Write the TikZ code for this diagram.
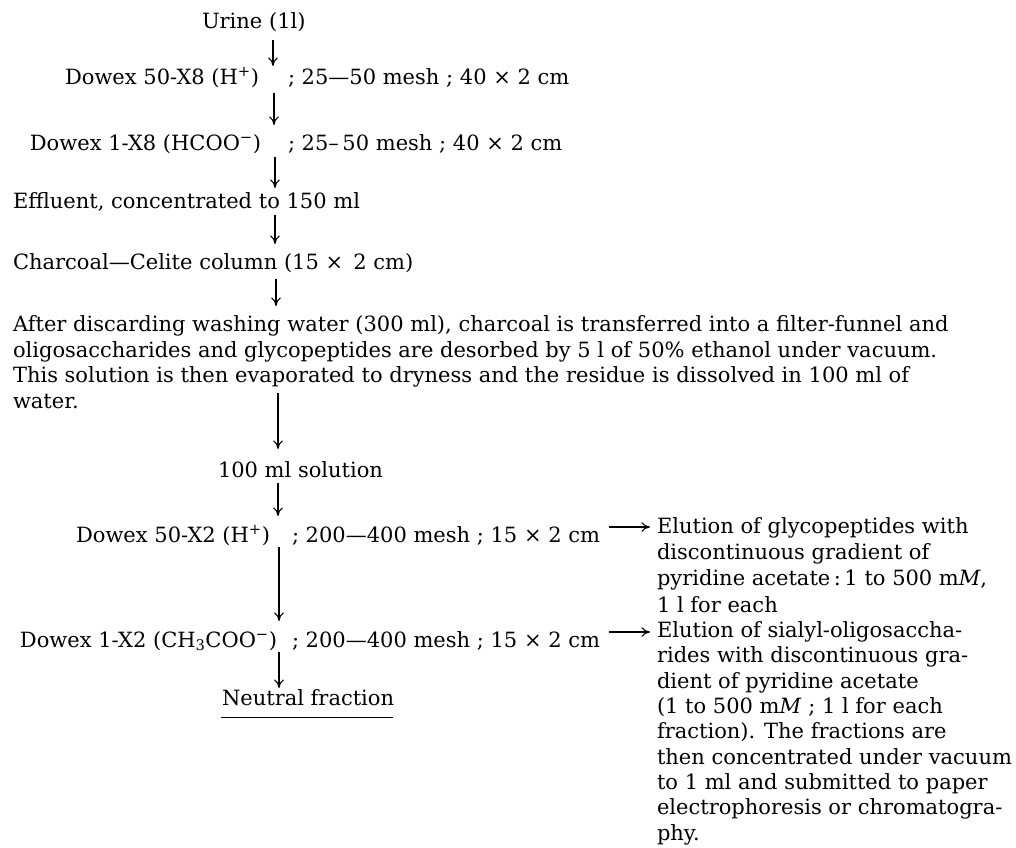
\documentclass[tikz,border=0pt]{standalone}
\usepackage{fontspec}
\setmainfont{DejaVu Serif}
\usetikzlibrary{arrows.meta}
\begin{document}
\begin{tikzpicture}[x=1pt,y=-1pt,
  font=\fontsize{21}{25.5}\selectfont,
  txt/.style={inner sep=0pt,outer sep=0pt},
  arr/.style={-{To[length=8.5pt,width=9.5pt]},line width=1.1pt}]
\useasboundingbox (0,0) rectangle (1016,847);
% text rows
\node[txt,anchor=base west] (urine) at (202,28) {Urine (1l)};
\node[txt,anchor=base east] (d50a) at (259,84) {Dowex 50-X8 (H\textsuperscript{+})};
\node[txt,anchor=base west] (d50b) at (288,84) {; 25—50 mesh ; 40 × 2 cm};
\node[txt,anchor=base east] (d1a) at (261,150) {Dowex 1-X8 (HCOO\textsuperscript{−})};
\node[txt,anchor=base west] (d1b) at (288,150) {; 25–\,50 mesh ; 40 × 2 cm};
\node[txt,anchor=base west] (eff) at (13,208) {Effluent, concentrated to 150 ml};
\node[txt,anchor=base west] (char) at (13,269) {Charcoal—Celite column (15 × \,2 cm)};
\node[txt,anchor=base west,align=left] (para) at (13,408)
 {After discarding washing water (300 ml), charcoal is transferred into a filter-funnel and\\
  oligosaccharides and glycopeptides are desorbed by 5 l of 50\% ethanol under vacuum.\\
  This solution is then evaporated to dryness and the residue is dissolved in 100 ml of\\
  water.};
\node[txt,anchor=base west] (sol) at (218,477) {100 ml solution};
\node[txt,anchor=base east] (d502a) at (270,542) {Dowex 50-X2 (H\textsuperscript{+})};
\node[txt,anchor=base west] (d502b) at (292,542) {; 200—400 mesh ; 15 × 2 cm};
\node[txt,anchor=base east] (d12a) at (277,647) {Dowex 1-X2 (CH\textsubscript{3}COO\textsuperscript{−})};
\node[txt,anchor=base west] (d12b) at (292,647) {; 200—400 mesh ; 15 × 2 cm};
\node[txt,anchor=base west] (neut) at (222,705) {Neutral fraction};
\node[txt,anchor=base west,align=left,font=\fontsize{21}{26.3}\selectfont] (el1) at (657,612)
 {Elution of glycopeptides with\\
  discontinuous gradient of\\
  pyridine acetate\,:\,1 to 500 m\textit{M},\\
  1 l for each};
\node[txt,anchor=base west,align=left,font=\fontsize{21}{25.3}\selectfont] (el2) at (657,840)
 {Elution of sialyl-oligosaccha-\\
  rides with discontinuous gra-\\
  dient of pyridine acetate\\
  (1 to 500 m\textit{M} ; 1 l for each\\
  fraction). The fractions are\\
  then concentrated under vacuum\\
  to 1 ml and submitted to paper\\
  electrophoresis or chromatogra-\\
  phy.};
% arrow end points
\coordinate (a1s) at (273,40);  \coordinate (a1e) at (273,66);
\coordinate (a2s) at (274,93);  \coordinate (a2e) at (274,125);
\coordinate (a3s) at (275,157); \coordinate (a3e) at (275,188);
\coordinate (a4s) at (275,215); \coordinate (a4e) at (275,244);
\coordinate (a5s) at (276,279); \coordinate (a5e) at (276,306);
\coordinate (a6s) at (278,393); \coordinate (a6e) at (278,449);
\coordinate (a7s) at (278,483); \coordinate (a7e) at (278,516);
\coordinate (a8s) at (279,547); \coordinate (a8e) at (279,621);
\coordinate (a9s) at (279,652); \coordinate (a9e) at (279,688);
\coordinate (r1s) at (609,527); \coordinate (r1e) at (650,527);
\coordinate (r2s) at (609,632); \coordinate (r2e) at (650,632);
\draw[arr] (a1s) -- (a1e);
\draw[arr] (a2s) -- (a2e);
\draw[arr] (a3s) -- (a3e);
\draw[arr] (a4s) -- (a4e);
\draw[arr] (a5s) -- (a5e);
\draw[arr] (a6s) -- (a6e);
\draw[arr] (a7s) -- (a7e);
\draw[arr] (a8s) -- (a8e);
\draw[arr] (a9s) -- (a9e);
\draw[arr] (r1s) -- (r1e);
\draw[arr] (r2s) -- (r2e);
\draw[line width=1pt] (neut.base west) ++(-1,12) coordinate (ul1) -- (393,717) coordinate (ul2);
\end{tikzpicture}
\end{document}
